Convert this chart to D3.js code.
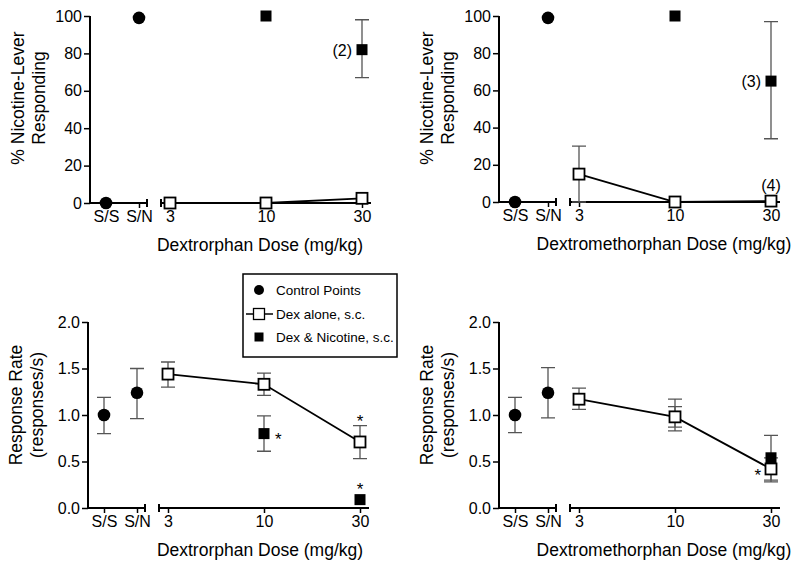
<!DOCTYPE html>
<html><head><meta charset="utf-8">
<script src="https://cdn.jsdelivr.net/npm/d3@7/dist/d3.min.js"></script>
<style>
html,body{margin:0;padding:0;background:#fff;}
svg{display:block;font-family:"Liberation Sans",Arial,Helvetica,sans-serif;}
</style></head>
<body><svg id="c" width="800" height="569"></svg>
<script>
// ---------- DATA ----------
const controlCats = ["S/S", "S/N"];
const doseCats = ["3", "10", "30"];
const pctTicks = [0, 20, 40, 60, 80, 100];
const rateTicks = [0.0, 0.5, 1.0, 1.5, 2.0];

// Top-left: Dextrorphan, % nicotine-lever responding
const dxoPctControl = [0, 99];
const dxoPctAlone = [0, 0, 2.5];
const dxoPctNic = [null, 100, 82];
const dxoPctNicErr = [null, null, [67, 98]];

// Top-right: Dextromethorphan, % nicotine-lever responding
const dmPctControl = [0, 99];
const dmPctAlone = [15, 0, 0.5];
const dmPctAloneErr = [[0, 30], null, null];
const dmPctNic = [null, 100, 65];
const dmPctNicErr = [null, null, [34, 97]];

// Bottom-left: Dextrorphan, response rate
const dxoRateControl = [1.0, 1.24];
const dxoRateControlErr = [[0.80, 1.19], [0.96, 1.50]];
const dxoRateAlone = [1.44, 1.33, 0.71];
const dxoRateAloneErr = [[1.30, 1.57], [1.21, 1.45], [0.53, 0.885]];
const dxoRateNic = [null, 0.80, 0.09];
const dxoRateNicErr = [null, [0.61, 0.99], null];

// Bottom-right: Dextromethorphan, response rate
const dmRateControl = [1.0, 1.24];
const dmRateControlErr = [[0.81, 1.19], [0.97, 1.51]];
const dmRateAlone = [1.17, 0.98, 0.42];
const dmRateAloneErr = [[1.06, 1.29], [0.87, 1.09], [0.30, 0.54]];
const dmRateNic = [null, 0.98, 0.54];
const dmRateNicErr = [null, [0.83, 1.17], [0.28, 0.78]];

// annotations: text, dose category, anchor value (top of the marked item), side
const dxoPctNotes = [{t: "(2)", cat: "30", v: 82, side: "left"}];
const dmPctNotes = [{t: "(3)", cat: "30", v: 65, side: "left"}, {t: "(4)", cat: "30", v: 0.5, side: "above"}];
const dxoRateNotes = [{t: "*", cat: "30", v: 0.885, side: "above"}, {t: "*", cat: "10", v: 0.80, side: "right"}, {t: "*", cat: "30", v: 0.15, side: "above"}];
const dmRateNotes = [{t: "*", cat: "30", v: 0.42, side: "left"}];

const legendLabels = ["Control Points", "Dex alone, s.c.", "Dex & Nicotine, s.c."];

// ---------- DRAW ----------
const svg = d3.select("#c");
const FONT = '"Liberation Sans",Arial,Helvetica,sans-serif';
const errColor = "#555";

function drawPanel(cfg) {
  const g = svg.append("g");
  const x0 = cfg.x0;
  const xc = d3.scalePoint().domain(controlCats).range([x0 + 16, x0 + 49]);
  const xd = d3.scalePoint().domain(doseCats).range([x0 + 80, x0 + 272]);
  const y = d3.scaleLinear().domain(cfg.yDomain).range([cfg.yBot, cfg.yTop]);

  // y axis
  const ya = g.append("g").attr("transform", `translate(${x0},0)`)
    .call(d3.axisLeft(y).tickValues(cfg.yTicks).tickFormat(cfg.yFormat).tickSize(6).tickPadding(2).tickSizeOuter(0));
  ya.select(".domain").attr("stroke-width", 2).attr("d", `M0,${cfg.yBot + 1}V${cfg.yTop}`);
  ya.selectAll(".tick line").attr("stroke-width", 1.5);
  ya.selectAll("text").attr("font-size", 16).attr("font-family", FONT).attr("fill", "#000");

  // x axes (broken)
  const xa1 = g.append("g").attr("transform", `translate(0,${cfg.yBot})`)
    .call(d3.axisBottom(xc).tickSize(5).tickPadding(3).tickSizeOuter(0));
  const xa2 = g.append("g").attr("transform", `translate(0,${cfg.yBot})`)
    .call(d3.axisBottom(xd).tickSize(5).tickPadding(3).tickSizeOuter(0));
  xa1.select(".domain").attr("d", `M${x0},0H${x0 + 57}M${x0 + 57},-4V4`).attr("stroke-width", 2);
  xa2.select(".domain").attr("d", `M${x0 + 71},-4V4M${x0 + 71},0H${x0 + 281}`).attr("stroke-width", 2);
  [xa1, xa2].forEach(a => {
    a.selectAll(".tick line").attr("stroke-width", 1.5);
    a.selectAll("text").attr("font-size", 16).attr("font-family", FONT).attr("fill", "#000");
  });

  // titles
  const ty = cfg.titleY;
  g.append("text").attr("transform", `translate(${x0 - 66},${ty}) rotate(-90)`)
    .attr("text-anchor", "middle").attr("font-size", 17.5).text(cfg.yTitle[0]);
  g.append("text").attr("transform", `translate(${x0 - 45},${ty}) rotate(-90)`)
    .attr("text-anchor", "middle").attr("font-size", 17.5).text(cfg.yTitle[1]);
  g.append("text").attr("x", cfg.xTitleX).attr("y", cfg.yBot + 48)
    .attr("text-anchor", "middle").attr("font-size", 17.5).text(cfg.xTitle);

  // data line (Dex alone)
  const aloneData = doseCats.map((c, i) => ({c, v: cfg.alone[i]})).filter(d => d.v != null);
  g.append("path").datum(aloneData)
    .attr("d", d3.line().x(d => xd(d.c)).y(d => y(d.v)))
    .attr("fill", "none").attr("stroke", "#000").attr("stroke-width", 1.8);

  // error bars
  function errBars(xs, cats, errs) {
    if (!errs) return;
    cats.forEach((c, i) => {
      const e = errs[i];
      if (!e) return;
      const xx = xs(c), y1 = y(e[0]), y2 = y(e[1]);
      g.append("path").attr("d", `M${xx},${y1}V${y2}M${xx - 7},${y1}H${xx + 7}M${xx - 7},${y2}H${xx + 7}`)
        .attr("stroke", errColor).attr("stroke-width", 1.3).attr("fill", "none");
    });
  }
  errBars(xc, controlCats, cfg.controlErr);
  errBars(xd, doseCats, cfg.nicErr);
  errBars(xd, doseCats, cfg.aloneErr);

  // control circles
  g.selectAll(".ctl").data(controlCats.map((c, i) => ({c, v: cfg.control[i]}))).enter()
    .append("circle").attr("cx", d => xc(d.c)).attr("cy", d => y(d.v)).attr("r", 6.3).attr("fill", "#000");
  // dex + nicotine squares
  const S = 11;
  g.selectAll(".nic").data(doseCats.map((c, i) => ({c, v: cfg.nic[i]})).filter(d => d.v != null)).enter()
    .append("rect").attr("x", d => xd(d.c) - S / 2).attr("y", d => y(d.v) - S / 2)
    .attr("width", S).attr("height", S).attr("fill", "#000");
  // dex alone squares
  g.selectAll(".alone").data(aloneData).enter()
    .append("rect").attr("x", d => xd(d.c) - S / 2).attr("y", d => y(d.v) - S / 2)
    .attr("width", S).attr("height", S).attr("fill", "#fff").attr("stroke", "#000").attr("stroke-width", 1.8);

  // annotations
  (cfg.notes || []).forEach(n => {
    const xx = xd(n.cat), yy = y(n.v);
    const star = n.t === "*";
    const fs = star ? 17 : 16;
    let tx = xx, tyy = yy, anchor = "middle";
    if (n.side === "left") { tx = xx - 10; anchor = "end"; tyy = yy + (star ? 12 : 6); }
    if (n.side === "right") { tx = xx + 11; anchor = "start"; tyy = yy + (star ? 11 : 6); }
    if (n.side === "above") { tyy = yy - (star ? -1 : 10); }
    g.append("text").attr("x", tx).attr("y", tyy).attr("text-anchor", anchor)
      .attr("font-size", fs).text(n.t);
  });
}

drawPanel({x0: 90, yTop: 16, yBot: 203, yDomain: [0, 100], yTicks: pctTicks, yFormat: d3.format("d"),
  yTitle: ["% Nicotine-Lever", "Responding"], xTitle: "Dextrorphan Dose (mg/kg)", xTitleX: 260, titleY: 98,
  control: dxoPctControl, controlErr: null, alone: dxoPctAlone, aloneErr: null, nic: dxoPctNic, nicErr: dxoPctNicErr, notes: dxoPctNotes});
drawPanel({x0: 499, yTop: 16, yBot: 202, yDomain: [0, 100], yTicks: pctTicks, yFormat: d3.format("d"),
  yTitle: ["% Nicotine-Lever", "Responding"], xTitle: "Dextromethorphan Dose (mg/kg)", xTitleX: 664, titleY: 98,
  control: dmPctControl, controlErr: null, alone: dmPctAlone, aloneErr: dmPctAloneErr, nic: dmPctNic, nicErr: dmPctNicErr, notes: dmPctNotes});
drawPanel({x0: 88, yTop: 322, yBot: 508, yDomain: [0, 2], yTicks: rateTicks, yFormat: d3.format(".1f"),
  yTitle: ["Response Rate", "(responses/s)"], xTitle: "Dextrorphan Dose (mg/kg)", xTitleX: 260, titleY: 405,
  control: dxoRateControl, controlErr: dxoRateControlErr, alone: dxoRateAlone, aloneErr: dxoRateAloneErr, nic: dxoRateNic, nicErr: dxoRateNicErr, notes: dxoRateNotes});
drawPanel({x0: 499, yTop: 322, yBot: 508, yDomain: [0, 2], yTicks: rateTicks, yFormat: d3.format(".1f"),
  yTitle: ["Response Rate", "(responses/s)"], xTitle: "Dextromethorphan Dose (mg/kg)", xTitleX: 664, titleY: 405,
  control: dmRateControl, controlErr: dmRateControlErr, alone: dmRateAlone, aloneErr: dmRateAloneErr, nic: dmRateNic, nicErr: dmRateNicErr, notes: dmRateNotes});

// legend
const lg = svg.append("g");
lg.append("rect").attr("x", 243).attr("y", 274).attr("width", 154).attr("height", 83)
  .attr("fill", "#fff").attr("stroke", "#000").attr("stroke-width", 1.5);
const rows = [290, 314, 337];
lg.append("circle").attr("cx", 259).attr("cy", rows[0]).attr("r", 5).attr("fill", "#000");
lg.append("line").attr("x1", 246).attr("x2", 273).attr("y1", rows[1]).attr("y2", rows[1]).attr("stroke", "#000").attr("stroke-width", 1.5);
lg.append("rect").attr("x", 253.5).attr("y", rows[1] - 5.5).attr("width", 11).attr("height", 11).attr("fill", "#fff").attr("stroke", "#000").attr("stroke-width", 1.3);
lg.append("rect").attr("x", 254.5).attr("y", rows[2] - 4.5).attr("width", 9).attr("height", 9).attr("fill", "#000");
legendLabels.forEach((t, i) => {
  lg.append("text").attr("x", 276).attr("y", rows[i] + 5).attr("font-size", 13.5).text(t);
});
</script></body></html>
